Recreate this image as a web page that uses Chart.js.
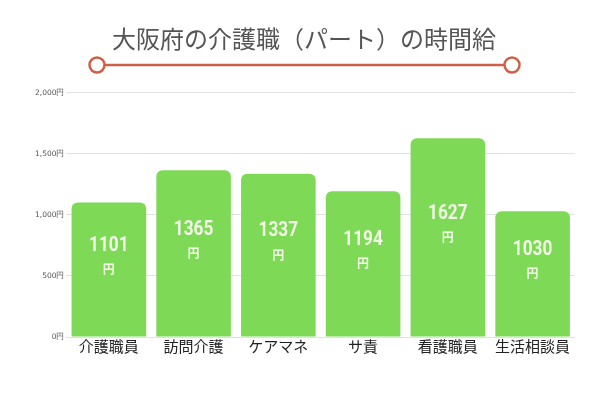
<!DOCTYPE html>
<html>
<head>
<meta charset="utf-8">
<script src="https://cdn.jsdelivr.net/npm/chart.js@4"></script>
<style>
html,body{margin:0;padding:0;background:#fff;}
#wrap{width:600px;height:400px;position:relative;}
</style>
</head>
<body>
<div id="wrap"><canvas id="c" width="600" height="400"></canvas></div>
<script>
const categories = ["介護職員", "訪問介護", "ケアマネ", "サ責", "看護職員", "生活相談員"];
const wages = [1101, 1365, 1337, 1194, 1627, 1030];
const yTicks = [0, 500, 1000, 1500, 2000];
const titleText = "大阪府の介護職（パート）の時間給";
const unit = "円";

const decoPlugin = {
  id: 'deco',
  afterDraw(chart) {
    const ctx = chart.ctx;
    ctx.save();
    ctx.strokeStyle = '#cf5f49';
    ctx.lineWidth = 2.5;
    ctx.beginPath();
    ctx.moveTo(105, 65);
    ctx.lineTo(504, 65);
    ctx.stroke();
    [97, 512].forEach(x => {
      ctx.beginPath();
      ctx.arc(x, 65, 7.5, 0, Math.PI * 2);
      ctx.fillStyle = '#fff';
      ctx.fill();
      ctx.stroke();
    });
    // value labels
    const meta = chart.getDatasetMeta(0);
    ctx.fillStyle = '#f2f9e6';
    ctx.textAlign = 'center';
    ctx.textBaseline = 'middle';
    meta.data.forEach((bar, i) => {
      const mid = (bar.y + bar.base) / 2;
      ctx.save();
      ctx.translate(bar.x, mid - 24);
      ctx.scale(0.82, 1);
      ctx.font = 'bold 21px Roboto';
      ctx.fillText(String(chart.data.datasets[0].data[i]), 0, 0);
      ctx.restore();
      ctx.font = 'bold 12px "Noto Sans CJK JP"';
      ctx.fillText(unit, bar.x, mid);
    });
    ctx.restore();
  }
};

new Chart(document.getElementById('c'), {
  type: 'bar',
  data: {
    labels: categories,
    datasets: [{
      data: wages,
      backgroundColor: '#7ed957',
      borderRadius: 6,
      borderSkipped: 'bottom',
      barPercentage: 0.88,
      categoryPercentage: 1.0
    }]
  },
  options: {
    responsive: false,
    animation: false,
    devicePixelRatio: 1,
    layout: { padding: { top: 0, right: 25, left: 33, bottom: 45 } },
    plugins: {
      legend: { display: false },
      tooltip: { enabled: false },
      title: {
        display: true,
        text: titleText,
        color: '#555',
        font: { family: '"Noto Sans CJK JP"', size: 24, weight: 'normal' },
        padding: { top: 24, bottom: 40 }
      }
    },
    scales: {
      x: {
        grid: { display: false, drawTicks: false, tickLength: 0 },
        border: { display: false },
        ticks: {
          color: '#222',
          padding: 0,
          font: { family: '"Noto Sans CJK JP"', size: 15 }
        }
      },
      y: {
        min: 0,
        max: 2000,
        afterBuildTicks(axis) { axis.ticks = yTicks.map(v => ({ value: v })); },
        grid: { color: '#e2e2e2', drawTicks: false },
        border: { display: false },
        ticks: {
          color: '#555',
          padding: 2,
          font: { family: '"DejaVu Sans"', size: 7.5 },
          callback: v => v.toLocaleString('en-US') + unit
        }
      }
    }
  },
  plugins: [decoPlugin]
});
</script>
</body>
</html>
